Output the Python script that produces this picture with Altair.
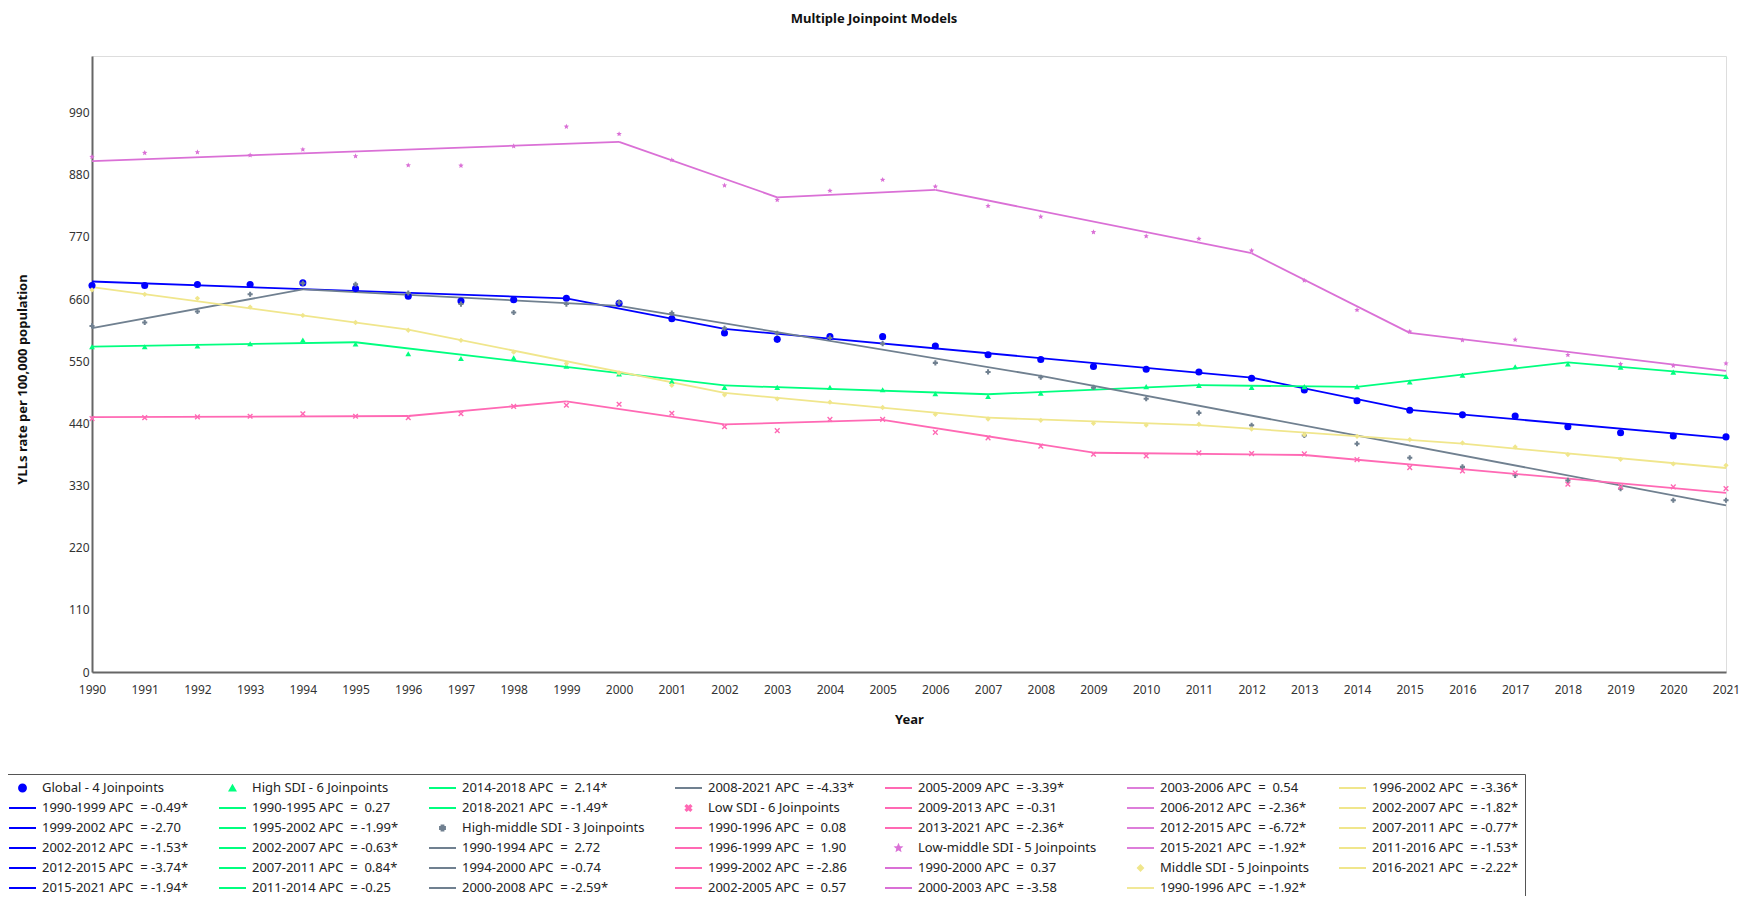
import altair as alt
import pandas as pd

years = list(range(1990, 2022))

series_names = [
    "Global - 4 Joinpoints",
    "High SDI - 6 Joinpoints",
    "High-middle SDI - 3 Joinpoints",
    "Low SDI - 6 Joinpoints",
    "Low-middle SDI - 5 Joinpoints",
    "Middle SDI - 5 Joinpoints",
]
series_colors = ["#0000ff", "#00ff7f", "#708090", "#ff69b4", "#da70d6", "#f0e68c"]

# observed values 1990..2021
global_obs = [683.8, 683.8, 685.6, 685.6, 688.5, 678.4, 664.8, 656.4, 658.8, 661.2, 652.3,
              625.0, 600.0, 588.6, 593.4, 593.4, 576.8, 561.3, 553.0, 540.5, 535.7, 531.0,
              519.7, 498.9, 479.9, 463.2, 455.0, 453.0, 434.0, 423.5, 417.5, 416.0]
high_obs = [575.6, 575.6, 576.8, 581.0, 587.5, 580.3, 563.0, 554.8, 556.0, 541.0, 527.4,
            514.3, 503.6, 503.6, 503.6, 499.5, 492.3, 487.6, 493.5, 503.6, 505.0, 507.2,
            503.6, 505.0, 505.0, 513.0, 525.0, 540.0, 545.0, 539.5, 530.6, 522.8]
highmid_obs = [612.4, 618.4, 638.0, 668.3, 688.0, 686.0, 670.7, 651.0, 636.2, 651.0, 654.0,
               635.0, 608.3, 599.3, 591.0, 581.0, 547.0, 531.0, 521.5, 503.6, 483.4, 458.5,
               436.5, 418.7, 403.9, 379.0, 363.0, 348.0, 339.0, 324.5, 304.0, 304.0]
low_obs = [448.4, 450.0, 451.4, 452.5, 457.0, 452.5, 450.0, 457.0, 470.0, 472.0, 473.8,
           457.8, 434.0, 427.0, 447.0, 447.0, 424.0, 414.4, 399.6, 385.3, 382.3, 387.6,
           386.5, 385.9, 375.8, 361.7, 355.8, 352.2, 332.2, 327.5, 327.5, 324.5]
lowmid_obs = [911.5, 918.6, 919.8, 914.5, 924.6, 912.7, 896.6, 896.0, 930.5, 965.0, 952.0,
              906.0, 861.0, 835.4, 851.5, 871.0, 859.0, 824.7, 805.7, 778.3, 771.2, 766.5,
              745.6, 692.7, 640.4, 602.3, 587.0, 588.0, 561.0, 545.0, 542.0, 546.0]
middle_obs = [676.0, 668.3, 661.2, 645.7, 630.9, 618.4, 604.7, 586.9, 566.0, 545.8, 529.2,
              507.2, 490.5, 483.4, 477.5, 468.0, 456.0, 447.7, 445.4, 440.0, 437.0, 438.4,
              430.0, 420.0, 417.0, 411.2, 405.3, 398.3, 384.7, 376.4, 368.2, 365.8]

# joinpoint years, fitted values at them, and APC labels of each segment
global_jp = [1990, 1999, 2002, 2012, 2015, 2021]
global_fit = [691, 661, 607, 521, 464, 414]
global_apc = ["-0.49*", "-2.70", "-1.53*", "-3.74*", "-1.94*"]

high_jp = [1990, 1995, 2002, 2007, 2011, 2014, 2018, 2021]
high_fit = [575.6, 583.5, 507, 491.5, 507.5, 504.5, 548, 524]
high_apc = ["0.27", "-1.99*", "-0.63*", "0.84*", "-0.25", "2.14*", "-1.49*"]

highmid_jp = [1990, 1994, 2000, 2008, 2021]
highmid_fit = [608.5, 677, 648, 524, 295]
highmid_apc = ["2.72", "-0.74", "-2.59*", "-4.33*"]

low_jp = [1990, 1996, 1999, 2002, 2005, 2009, 2013, 2021]
low_fit = [451, 453, 479, 438, 446, 388, 384, 317]
low_apc = ["0.08", "1.90", "-2.86", "0.57", "-3.39*", "-0.31", "-2.36*"]

lowmid_jp = [1990, 2000, 2003, 2006, 2012, 2015, 2021]
lowmid_fit = [904, 938, 840, 853, 741, 600, 533]
lowmid_apc = ["0.37", "-3.58", "0.54", "-2.36*", "-6.72*", "-1.92*"]

middle_jp = [1990, 1996, 2002, 2007, 2011, 2016, 2021]
middle_fit = [681, 606, 494, 450, 437, 404, 361]
middle_apc = ["-1.92*", "-3.36*", "-1.82*", "-0.77*", "-1.53*", "-2.22*"]

obs_all = [global_obs, high_obs, highmid_obs, low_obs, lowmid_obs, middle_obs]
jp_all = [global_jp, high_jp, highmid_jp, low_jp, lowmid_jp, middle_jp]
fit_all = [global_fit, high_fit, highmid_fit, low_fit, lowmid_fit, middle_fit]
apc_all = [global_apc, high_apc, highmid_apc, low_apc, lowmid_apc, middle_apc]

# marker shapes (unit-square paths) and sizes per series
X_PATH = ("M-1,-0.65L-0.65,-1L0,-0.35L0.65,-1L1,-0.65L0.35,0L1,0.65L0.65,1L0,0.35"
          "L-0.65,1L-1,0.65L-0.35,0Z")
STAR_PATH = ("M0,-1L0.2645,-0.364L0.951,-0.309L0.428,0.139L0.588,0.809L0,0.45"
             "L-0.588,0.809L-0.428,0.139L-0.951,-0.309L-0.2645,-0.364Z")
series_shapes = ["circle", "triangle-up", "cross", X_PATH, STAR_PATH, "diamond"]
series_sizes = [50, 34, 26, 32, 32, 28]
LINE_SYMBOL_SIZE = 729

NB = "\u00a0"


def seg_label(y0, y1, apc):
    a = apc if apc.startswith("-") else NB + apc
    return f"{y0}-{y1} APC{NB} = {a}"


# build tables (legend entries listed column by column, as in the reference)
pt_rows, seg_rows = [], []
entries, entry_colors, entry_shapes, entry_sizes = [], [], [], []
for s, name in enumerate(series_names):
    entries.append(name)
    entry_colors.append(series_colors[s])
    entry_shapes.append(series_shapes[s])
    entry_sizes.append(series_sizes[s])
    for y, v in zip(years, obs_all[s]):
        pt_rows.append({"key": name, "year": y, "value": v})
    jp, fit, apc = jp_all[s], fit_all[s], apc_all[s]
    for i in range(len(apc)):
        lab = seg_label(jp[i], jp[i + 1], apc[i])
        entries.append(lab)
        entry_colors.append(series_colors[s])
        entry_shapes.append("stroke")
        entry_sizes.append(LINE_SYMBOL_SIZE)
        seg_rows.append({"key": lab, "year": jp[i], "value": fit[i]})
        seg_rows.append({"key": lab, "year": jp[i + 1], "value": fit[i + 1]})

points = pd.DataFrame(pt_rows)
segs = pd.DataFrame(seg_rows)

legend = alt.Legend(
    title=None,
    orient="none",
    direction="vertical",
    legendX=-90,
    legendY=718,
    columns=7,
    columnPadding=29,
    rowPadding=4,
    clipHeight=16,
    symbolLimit=60,
    labelOffset=5,
    labelLimit=400,
    labelFont="Noto Sans",
    labelFontSize=13,
    labelColor="#222222",
    padding=6,
    strokeColor="#555555",
    fillColor="white",
    symbolStrokeWidth=1.8,
    symbolOpacity=1,
)

color_enc = alt.Color("key:N", scale=alt.Scale(domain=entries, range=entry_colors), legend=legend)
shape_enc = alt.Shape("key:N", scale=alt.Scale(domain=entries, range=entry_shapes), legend=legend)
size_enc = alt.Size("key:N", scale=alt.Scale(type="ordinal", domain=entries, range=entry_sizes),
                    legend=legend)

x_enc = alt.X(
    "year:Q",
    scale=alt.Scale(domain=[1990, 2021], nice=False, zero=False),
    axis=alt.Axis(
        values=years, format="d", ticks=False, grid=False, labelPadding=12,
        labelFont="Noto Sans", labelFontSize=12, labelColor="#333333",
        title="Year", titleFont="Noto Sans", titleFontSize=13, titleFontWeight="bold",
        titleColor="#111111", titleY=47, titleBaseline="middle",
        domainColor="#666666", domainWidth=2, labelFlush=False,
    ),
)
y_enc = alt.Y(
    "value:Q",
    scale=alt.Scale(domain=[0, 1090], nice=False),
    axis=alt.Axis(
        values=[0, 110, 220, 330, 440, 550, 660, 770, 880, 990], ticks=False, grid=False,
        labelPadding=3, labelFont="Noto Sans", labelFontSize=12, labelColor="#333333",
        title="YLLs rate per 100,000 population", titleFont="Noto Sans", titleFontSize=13,
        titleFontWeight="bold", titleColor="#111111", titleX=-70, titleY=323,
        titleAngle=-90, titleAlign="center", titleBaseline="middle",
        domainColor="#666666", domainWidth=2,
    ),
)

lines = alt.Chart(segs).mark_line(strokeWidth=1.8).encode(
    x=x_enc, y=y_enc, color=color_enc
)
pts = alt.Chart(points).mark_point(filled=True, opacity=1).encode(
    x=x_enc, y=y_enc, color=color_enc, shape=shape_enc, size=size_enc
)

chart = (
    alt.layer(lines, pts)
    .properties(
        width=1634,
        height=616,
        title=alt.TitleParams(
            "Multiple Joinpoint Models", font="Noto Sans", fontSize=13,
            fontWeight="bold", color="#111111", anchor="middle", dx=-35, offset=30,
        ),
        autosize=alt.AutoSizeParams(type="none"),
        padding={"left": 84, "top": 48, "right": 14, "bottom": 224},
    )
    .configure_view(stroke="#808080", strokeWidth=2)
    .configure(background="white")
)

chart.save("out.html", embed_options={"renderer": "svg", "actions": False})
